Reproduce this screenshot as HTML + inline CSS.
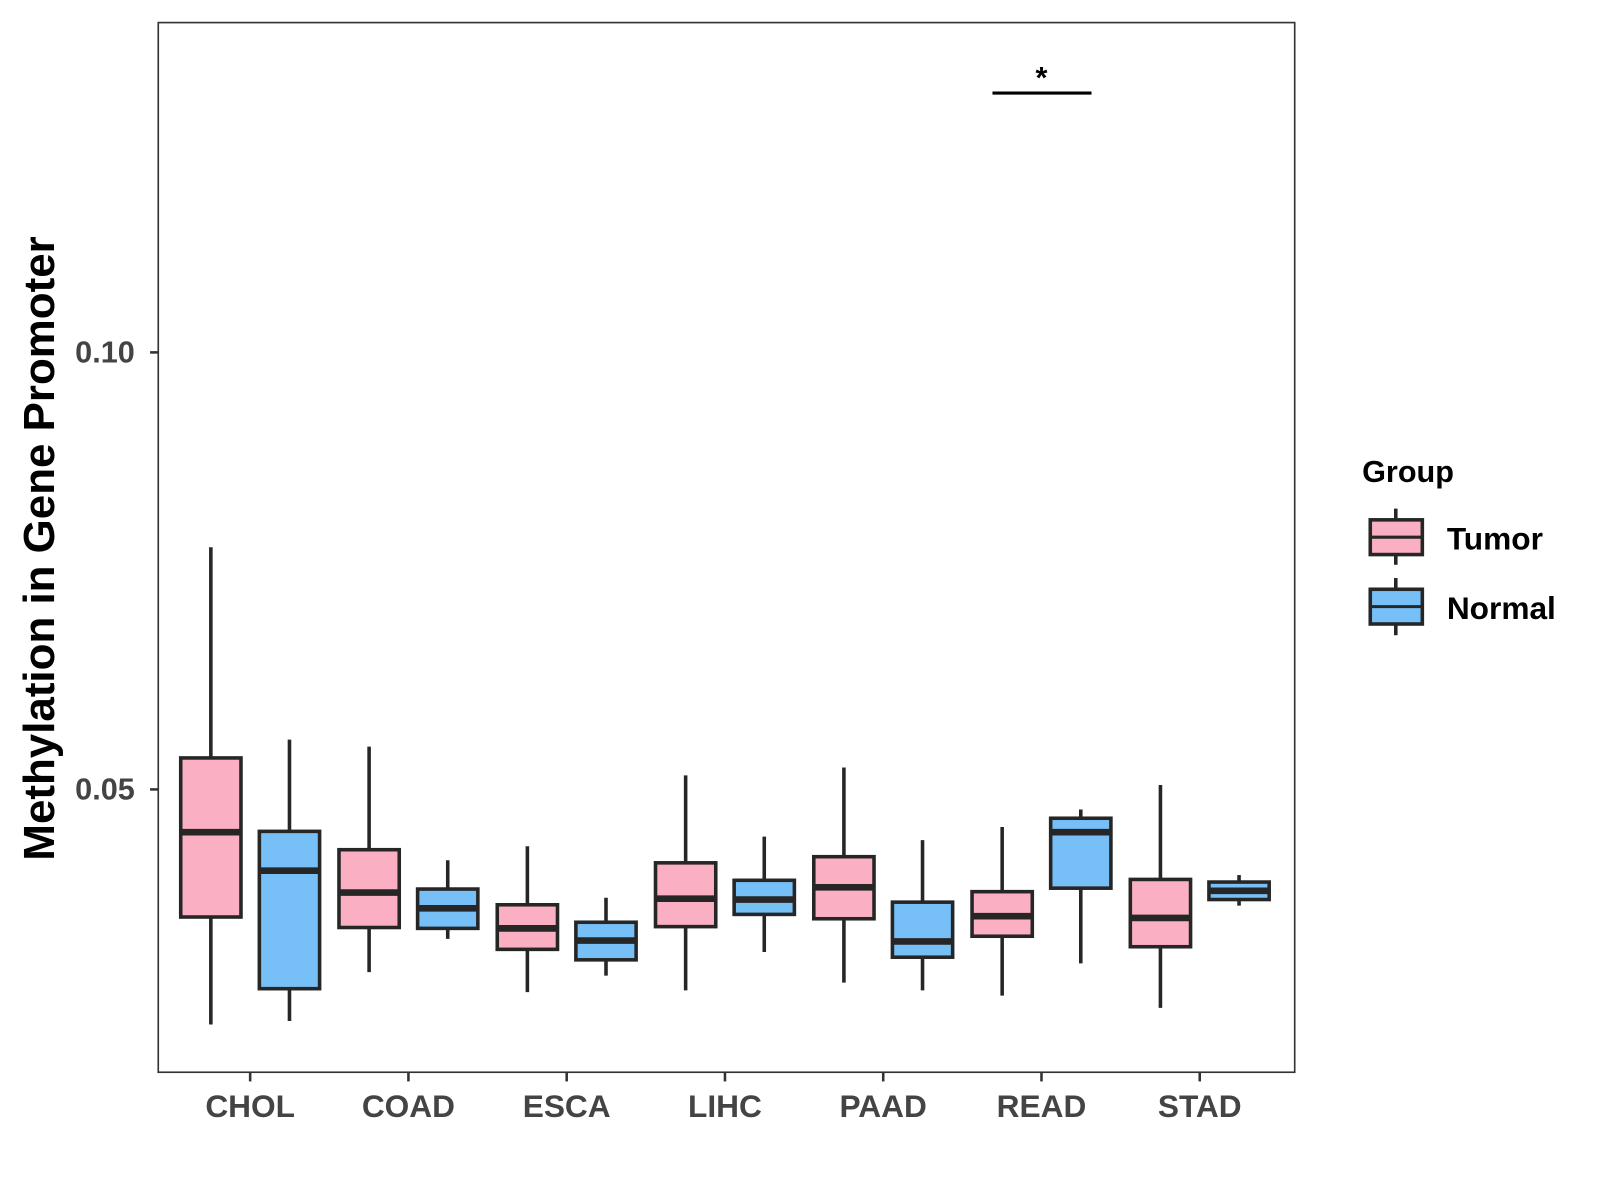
<!DOCTYPE html>
<html><head><meta charset="utf-8">
<style>
html,body{margin:0;padding:0;background:#fff;}
svg{display:block;font-family:"Liberation Sans",Arial,sans-serif;}
</style></head>
<body>
<svg id="chart" width="1600" height="1200" viewBox="0 0 1567 1175" xmlns="http://www.w3.org/2000/svg">
<rect x="0" y="0" width="1567" height="1175" fill="#fff"/>
<g id="marks"></g>
<rect x="155" y="22" width="1113" height="1028" fill="none" stroke="#333" stroke-width="1.6"/>
<g id="axes"></g>
<text transform="translate(53,537) rotate(-90)" text-anchor="middle" font-size="43" font-weight="bold" fill="#000">Methylation in Gene Promoter</text>
<g>
<line x1="972" y1="91" x2="1069" y2="91" stroke="#000" stroke-width="3"/>
<text x="1020" y="86" text-anchor="middle" font-size="30" font-weight="bold">*</text>
</g>
<g>
<text x="1334" y="472" font-size="30" font-weight="bold">Group</text>
<g>
<line x1="1367" y1="498" x2="1367" y2="553" stroke="#262626" stroke-width="3.5"/>
<rect x="1342" y="509" width="51" height="34" fill="#FBAFC2" stroke="#262626" stroke-width="3.5"/>
<line x1="1342" y1="526" x2="1393" y2="526" stroke="#262626" stroke-width="3"/>
<text x="1417" y="538" font-size="31" font-weight="bold">Tumor</text>
</g>
<g>
<line x1="1367" y1="566" x2="1367" y2="622" stroke="#262626" stroke-width="3.5"/>
<rect x="1342" y="577" width="51" height="34" fill="#76C0F7" stroke="#262626" stroke-width="3.5"/>
<line x1="1342" y1="594" x2="1393" y2="594" stroke="#262626" stroke-width="3"/>
<text x="1417" y="606" font-size="31" font-weight="bold">Normal</text>
</g>
</g>
</svg>
<script>
const categories = ["CHOL","COAD","ESCA","LIHC","PAAD","READ","STAD"];
const groups = ["Tumor","Normal"];
const tumorMin = [0.0231,0.0291,0.0268,0.0270,0.0279,0.0264,0.0250];
const tumorQ1 = [0.0354,0.0342,0.0317,0.0343,0.0352,0.0332,0.0320];
const tumorMed = [0.0451,0.0382,0.0341,0.0375,0.0388,0.0355,0.0353];
const tumorQ3 = [0.0536,0.0431,0.0368,0.0416,0.0423,0.0383,0.0397];
const tumorMax = [0.0777,0.0549,0.0435,0.0516,0.0525,0.0457,0.0505];
const normalMin = [0.0235,0.0329,0.0287,0.0314,0.0270,0.0301,0.0367];
const normalQ1 = [0.0272,0.0341,0.0305,0.0357,0.0308,0.0387,0.0374];
const normalMed = [0.0407,0.0364,0.0327,0.0374,0.0326,0.0451,0.0384];
const normalQ3 = [0.0452,0.0386,0.0348,0.0396,0.0371,0.0467,0.0394];
const normalMax = [0.0557,0.0419,0.0376,0.0446,0.0442,0.0477,0.0402];
const yTicks = [0.05,0.10];
const yTickLabels = ["0.05","0.10"];

const NS="http://www.w3.org/2000/svg";
function yScale(v){return 773-(v-0.05)*8560;}
function xScale(i){return 245+i*155;}
function mk(tag,attrs,parent){const e=document.createElementNS(NS,tag);for(const k in attrs)e.setAttribute(k,attrs[k]);parent.appendChild(e);return e;}
const marks=document.getElementById('marks');
const axes=document.getElementById('axes');
const series=[
 {name:"tumor",fill:"#FBAFC2",off:-38.5,mn:tumorMin,q1:tumorQ1,md:tumorMed,q3:tumorQ3,mx:tumorMax},
 {name:"normal",fill:"#76C0F7",off:38.5,mn:normalMin,q1:normalQ1,md:normalMed,q3:normalQ3,mx:normalMax}
];
const bw=59;
series.forEach(s=>{
 categories.forEach((c,i)=>{
  const cx=xScale(i)+s.off;
  const g=mk('g',{},marks);
  
  
  mk('line',{x1:cx,x2:cx,y1:yScale(s.mx[i]),y2:yScale(s.mn[i]),stroke:'#262626','stroke-width':3.5},g);
  mk('rect',{x:cx-bw/2,y:yScale(s.q3[i]),width:bw,height:yScale(s.q1[i])-yScale(s.q3[i]),fill:s.fill,stroke:'#262626','stroke-width':3.5},g);
  mk('line',{x1:cx-bw/2,x2:cx+bw/2,y1:yScale(s.md[i]),y2:yScale(s.md[i]),stroke:'#262626','stroke-width':6.5},g);
 });
});
yTicks.forEach((v,i)=>{
 const y=yScale(v);
 const t=mk('line',{x1:147,x2:155,y1:y,y2:y,stroke:'#333','stroke-width':2.5},axes);
 
 
 const l=mk('text',{x:132,y:y+10,'text-anchor':'end','font-size':30,'font-weight':'bold',fill:'#444'},axes);
 l.textContent=yTickLabels[i];
 
 
});
categories.forEach((c,i)=>{
 const x=xScale(i);
 const t=mk('line',{x1:x,x2:x,y1:1050,y2:1059,stroke:'#333','stroke-width':2.5},axes);
 
 
 const l=mk('text',{x:x,y:1094,'text-anchor':'middle','font-size':31,'font-weight':'bold',fill:'#444'},axes);
 l.textContent=c;
 
 
});
</script>
</body></html>
